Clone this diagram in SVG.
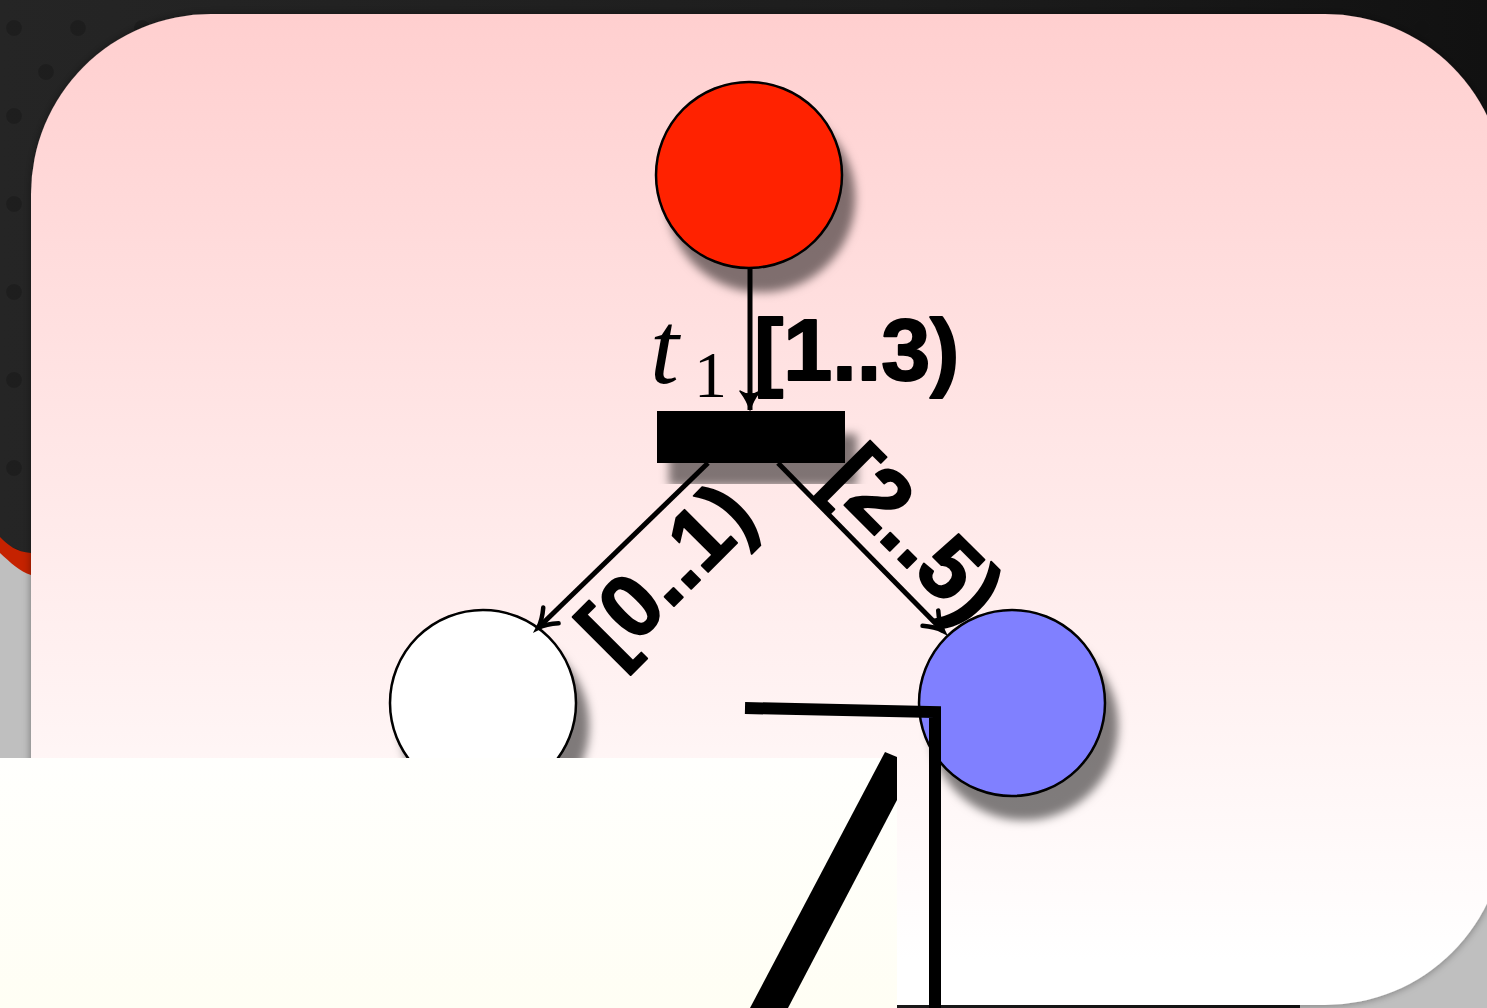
<svg xmlns="http://www.w3.org/2000/svg" width="1487" height="1008" viewBox="0 0 1487 1008">
  <defs>
    <linearGradient id="darkBg" x1="0" y1="0" x2="1" y2="0">
      <stop offset="0" stop-color="#252525"/>
      <stop offset="0.6" stop-color="#1d1d1d"/>
      <stop offset="1" stop-color="#111111"/>
    </linearGradient>
    <pattern id="dots" width="64" height="88" patternUnits="userSpaceOnUse">
      <circle cx="14" cy="28" r="8" fill="#111111" opacity="0.35"/>
      <circle cx="46" cy="72" r="8" fill="#111111" opacity="0.35"/>
    </pattern>
    <linearGradient id="panelGrad" x1="0" y1="14" x2="0" y2="960" gradientUnits="userSpaceOnUse">
      <stop offset="0" stop-color="#ffcfcf"/>
      <stop offset="0.45" stop-color="#ffe6e6"/>
      <stop offset="0.8" stop-color="#fff6f6"/>
      <stop offset="1" stop-color="#ffffff"/>
    </linearGradient>
    <linearGradient id="paperGrad" x1="0" y1="758" x2="0" y2="1008" gradientUnits="userSpaceOnUse">
      <stop offset="0" stop-color="#fffffd"/>
      <stop offset="1" stop-color="#fffef4"/>
    </linearGradient>
    <filter id="panelShadow" x="-5%" y="-5%" width="110%" height="110%">
      <feDropShadow dx="0" dy="0" stdDeviation="4" flood-color="#000" flood-opacity="0.4"/>
    </filter>
    <filter id="shadow" x="-30%" y="-30%" width="170%" height="170%">
      <feDropShadow dx="12" dy="23" stdDeviation="5" flood-color="#000" flood-opacity="0.5"/>
    </filter>
    <marker id="arrowTo" markerUnits="userSpaceOnUse" markerWidth="30" markerHeight="30" refX="0" refY="0" viewBox="-24 -15 30 30" orient="auto" overflow="visible">
      <path d="M -18,-11 C -10,-4 -3,-1 0,0 C -3,1 -10,4 -18,11" fill="none" stroke="#000" stroke-width="4.5" stroke-linecap="round"/>
    </marker>
    <marker id="arrowFill" markerUnits="userSpaceOnUse" markerWidth="30" markerHeight="30" refX="0" refY="0" viewBox="-24 -15 30 30" orient="auto" overflow="visible">
      <path d="M -19,-10 C -11,-4 -4,-1 0,0 C -4,1 -11,4 -19,10 C -15,4 -15,-4 -19,-10 Z" fill="#000" stroke="#000" stroke-width="1.5" stroke-linejoin="round"/>
    </marker>
    <style>
      .place { stroke: #000; stroke-width: 2.5; }
      .conn { fill: none; stroke: #000; stroke-width: 5; }
      .lbl { font-family: "Liberation Sans", "DejaVu Sans", sans-serif; font-weight: bold; font-size: 88px; fill: #000; stroke: #000; stroke-width: 2; stroke-linejoin: round; }
      .math { font-family: "Liberation Serif", "DejaVu Serif", serif; fill: #000; }
      .bar { fill: none; stroke: #000; stroke-width: 12; stroke-linejoin: miter; }
    </style>
  </defs>

  <!-- background -->
  <rect x="0" y="0" width="1487" height="1008" fill="url(#darkBg)"/>
  <rect x="0" y="0" width="1487" height="560" fill="url(#dots)"/>
  <path d="M0,537 C8,545 16,552 31,553 L31,1008 L0,1008 Z" fill="#c52200"/>
  <path d="M0,553 C10,562 20,572 31,575 L31,1008 L0,1008 Z" fill="#bfbfbf"/>
  <rect x="1300" y="600" width="187" height="408" fill="#bfbfbf"/>

  <!-- panel -->
  <rect x="31" y="14" width="1474" height="991" rx="180" ry="180" fill="url(#panelGrad)" filter="url(#panelShadow)"/>

  <!-- nodes -->
  <g id="node-p1">
    <circle cx="749" cy="175" r="93" fill="#ff2200" class="place" filter="url(#shadow)"/>
  </g>
  <g id="node-p2">
    <circle cx="483" cy="703" r="93" fill="#ffffff" class="place" filter="url(#shadow)"/>
  </g>
  <g id="node-p3">
    <circle cx="1012" cy="703" r="93" fill="#8080ff" class="place" filter="url(#shadow)"/>
  </g>
  <g id="node-t1">
    <rect x="657" y="411" width="188" height="52" fill="#000" filter="url(#shadow)"/>
  </g>

  <!-- connectors -->
  <g id="connectors">
    <line x1="750" y1="269" x2="750" y2="410" class="conn" marker-end="url(#arrowFill)"/>
    <line x1="708" y1="463" x2="538" y2="628" class="conn" marker-end="url(#arrowTo)"/>
    <line x1="778" y1="463" x2="943" y2="631" class="conn" marker-end="url(#arrowTo)"/>
  </g>

  <!-- labels -->
  <g id="labels">
    <text class="math" x="650" y="383" font-size="104" font-style="italic">t</text>
    <text class="math" x="694" y="397" font-size="66">1</text>
    <text class="lbl" x="754" y="380">[1..3)</text>
    <g transform="translate(670,576) rotate(-45)">
      <text class="lbl" x="0" y="24" text-anchor="middle">[0..1)</text>
    </g>
    <g transform="translate(911,538) rotate(45)">
      <text class="lbl" x="0" y="24" text-anchor="middle">[2..5)</text>
    </g>
  </g>

  <!-- overlaid paper and strokes -->
  <rect x="0" y="758" width="897" height="250" fill="url(#paperGrad)"/>
  <polyline class="bar" points="745,708 935,712 935,1008"/>
  <polygon points="885,752 897,757 897,800 788,1008 750,1008" fill="#000"/>
</svg>
